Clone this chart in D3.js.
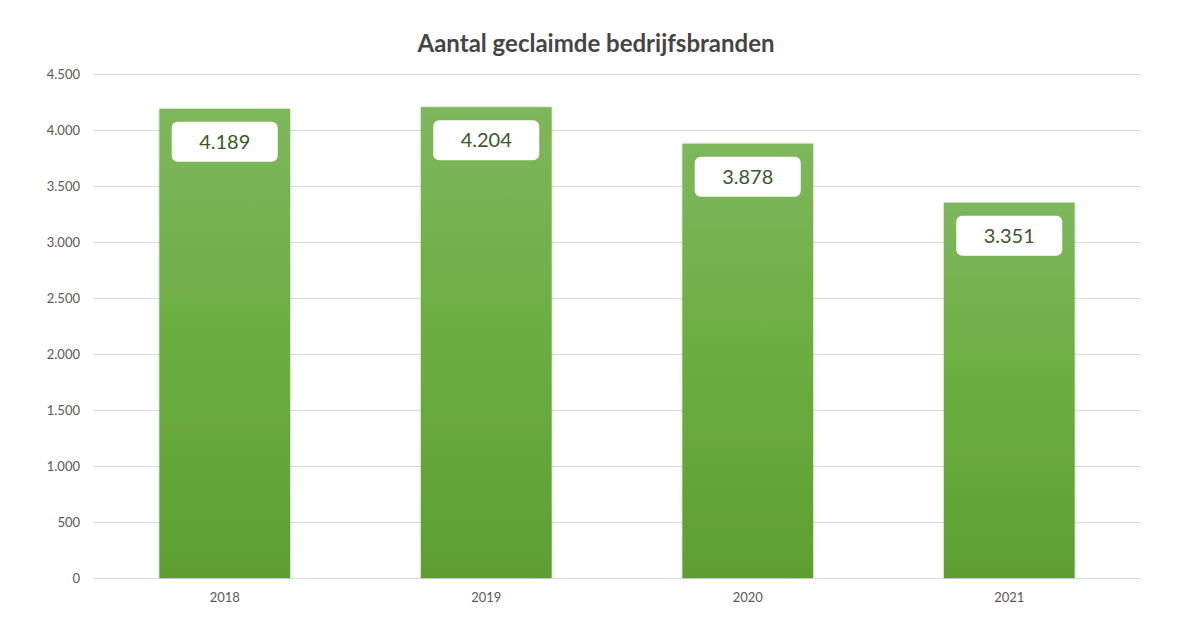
<!DOCTYPE html>
<html>
<head>
<meta charset="utf-8">
<script src="https://cdn.jsdelivr.net/npm/d3@7"></script>
<style>
    body { margin: 0; background: #fff; }
    text { font-family: Lato, "Open Sans", sans-serif; }
</style>
</head>
<body>
<div id="chart-area"></div>
<script>

// Chart data
let years = ["2018", "2019", "2020", "2021"];
let claims = [4189, 4204, 3878, 3351];
let yTicks = [0, 500, 1000, 1500, 2000, 2500, 3000, 3500, 4000, 4500];

let margin = {top: 74, right: 60, bottom: 52, left: 94};

let width = 1200 - margin.left - margin.right,
    height = 630 - margin.top - margin.bottom;

let svg = d3.select("#chart-area").append("svg")
    .attr("width", 1200)
    .attr("height", 630);

let defs = svg.append("defs");

let grad = defs.append("linearGradient")
    .attr("id", "bar-fill")
    .attr("x1", 0).attr("y1", 0)
    .attr("x2", 0).attr("y2", 1);
grad.append("stop").attr("offset", "0%").attr("stop-color", "#7eb75c");
grad.append("stop").attr("offset", "45%").attr("stop-color", "#6dae42");
grad.append("stop").attr("offset", "100%").attr("stop-color", "#5f9f32");

let shadow = defs.append("filter")
    .attr("id", "shadow")
    .attr("x", "-10%").attr("y", "-10%")
    .attr("width", "120%").attr("height", "120%");
shadow.append("feDropShadow")
    .attr("dx", 0).attr("dy", 0)
    .attr("stdDeviation", 1.2)
    .attr("flood-color", "#000")
    .attr("flood-opacity", 0.25);

let g = svg.append("g")
    .attr("transform", "translate(" + margin.left + "," + margin.top + ")");

// Title
svg.append("text")
    .attr("x", 596)
    .attr("y", 52)
    .attr("text-anchor", "middle")
    .attr("font-size", 24)
    .attr("font-weight", "bold")
    .attr("fill", "#454545")
    .text("Aantal geclaimde bedrijfsbranden");

// Scales
let x = d3.scaleBand()
    .domain(years)
    .range([0, width])
    .paddingInner(0.5)
    .paddingOuter(0.25);

let y = d3.scaleLinear()
    .domain([0, 4500])
    .range([height, 0]);

// Gridlines
g.selectAll(".grid")
    .data(yTicks)
    .enter().append("line")
    .attr("class", "grid")
    .attr("x1", 0)
    .attr("x2", width)
    .attr("y1", d => y(d) + 0.5)
    .attr("y2", d => y(d) + 0.5)
    .attr("stroke", "#d9d9d9")
    .attr("stroke-width", 1);

// Axes
let yAxis = d3.axisLeft(y)
    .tickValues(yTicks)
    .tickSize(0)
    .tickPadding(14)
    .tickFormat(d => d3.format(",")(d).replace(/,/g, "."));

let yAxisGroup = g.append("g")
    .attr("class", "y-axis axis")
    .call(yAxis);
yAxisGroup.select(".domain").remove();
yAxisGroup.selectAll("text")
    .attr("font-size", 13)
    .attr("fill", "#595959")
    .style("font-family", "Lato, 'Open Sans', sans-serif");

let xAxis = d3.axisBottom(x)
    .tickSize(0)
    .tickPadding(15);

let xAxisGroup = g.append("g")
    .attr("class", "x-axis axis")
    .attr("transform", "translate(0," + height + ")")
    .call(xAxis);
xAxisGroup.select(".domain").remove();
xAxisGroup.selectAll("text")
    .attr("font-size", 13)
    .attr("fill", "#595959")
    .style("font-family", "Lato, 'Open Sans', sans-serif");

// Bars
g.selectAll(".bar")
    .data(claims)
    .enter().append("rect")
    .attr("class", "bar")
    .attr("x", (d, i) => x(years[i]))
    .attr("y", d => y(d))
    .attr("width", x.bandwidth())
    .attr("height", d => height - y(d))
    .attr("fill", "url(#bar-fill)")
    .attr("filter", "url(#shadow)");

// Value labels
let boxW = 106, boxH = 40;

let labels = g.selectAll(".value-label")
    .data(claims)
    .enter().append("g")
    .attr("class", "value-label")
    .attr("transform", (d, i) =>
        "translate(" + (x(years[i]) + x.bandwidth() / 2) + "," + (y(d) + 13) + ")");

labels.append("rect")
    .attr("x", -boxW / 2)
    .attr("y", 0)
    .attr("width", boxW)
    .attr("height", boxH)
    .attr("rx", 6)
    .attr("fill", "#fff");

labels.append("text")
    .attr("x", 0)
    .attr("y", boxH / 2)
    .attr("dy", "0.36em")
    .attr("text-anchor", "middle")
    .attr("font-size", 20)
    .attr("fill", "#3b5828")
    .text(d => d3.format(",")(d).replace(/,/g, "."));

</script>
</body>
</html>
